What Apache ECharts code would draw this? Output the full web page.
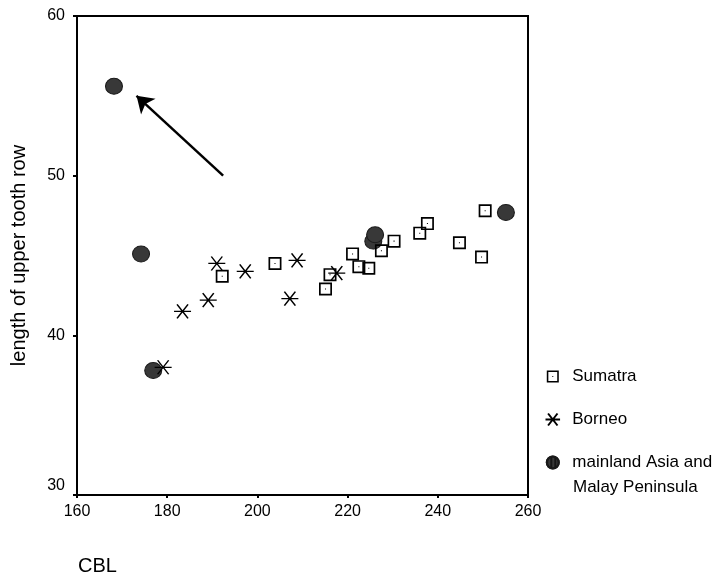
<!DOCTYPE html>
<html>
<head>
<meta charset="utf-8">
<script src="https://cdn.jsdelivr.net/npm/echarts@6/dist/echarts.min.js"></script>
<style>
  html, body { margin: 0; padding: 0; background: #fff; }
  #main { width: 718px; height: 581px; }
</style>
</head>
<body>
<div id="main"></div>
<script>
// data: [CBL, upper tooth row]
var sumatra = [
    [192.2, 43.7], [203.9, 44.5], [215.1, 42.9], [216.1, 43.8], [221.1, 45.1],
    [222.5, 44.3], [224.7, 44.2], [227.5, 45.3], [230.3, 45.9], [236.0, 46.4],
    [237.7, 47.0], [244.8, 45.8], [249.7, 44.9], [250.5, 47.8]
];
var borneo = [
    [179.1, 38.0], [183.4, 41.5], [189.1, 42.2], [191.0, 44.5], [197.3, 44.0],
    [207.2, 42.3], [208.8, 44.7], [217.6, 43.9]
];
var mainland = [
    [168.2, 55.6], [174.2, 45.1], [176.9, 37.8], [225.7, 45.9], [226.1, 46.3],
    [255.1, 47.7]
];
// arrow from tail to head
var arrow = [[192.4, 50.0], [173.2, 55.0]];

var xTicks = [160, 180, 200, 220, 240, 260];
var yTicks = [30, 40, 50, 60];
var seriesNames = ['Sumatra', 'Borneo', 'mainland Asia and Malay Peninsula'];
var mainlandLines = ['mainland Asia and', 'Malay Peninsula'];

var squareIcon = 'path://M0,0H20V20H0Z M2.6,2.6V17.4H17.4V2.6Z M9.2,9.2H10.8V10.8H9.2Z';
var starIcon = 'path://M0,7H17 M3,0L14,14 M3,14L14,0';

var font = 'Liberation Sans, Arial, sans-serif';

// hatched look of the mainland dots
var hatch = {
    symbol: 'rect',
    symbolSize: 1,
    dashArrayX: [2, 2],
    dashArrayY: [1, 0],
    color: 'rgba(0,0,0,0.6)'
};

var myChart = echarts.init(document.getElementById('main'));
var option = {
    backgroundColor: '#fff',
    animation: false,
    textStyle: { fontFamily: font, color: '#000' },
    grid: {
        left: 77,
        right: 190,
        top: 16,
        bottom: 83,
        show: true,
        borderColor: '#000',
        borderWidth: 2
    },
    legend: {
        orient: 'vertical',
        left: 538,
        top: 363,
        itemWidth: 29,
        itemHeight: 12,
        itemGap: 26,
        textStyle: { fontFamily: font, fontSize: 17, color: '#000' },
        data: seriesNames,
        formatter: function (name) {
            return name === seriesNames[2] ? mainlandLines[0] : name;
        }
    },
    graphic: [{
        type: 'text',
        left: 573,
        top: 479,
        style: { text: mainlandLines[1], font: '17px ' + font, fill: '#000' }
    }],
    xAxis: {
        type: 'value',
        min: xTicks[0],
        max: xTicks[xTicks.length - 1],
        interval: 20,
        name: 'CBL',
        nameLocation: 'middle',
        nameGap: 61,
        nameTextStyle: { fontFamily: font, fontSize: 20, color: '#000', padding: [0, 410, 0, 0] },
        axisLine: { lineStyle: { color: '#000', width: 2 } },
        axisTick: { show: true, length: 3, lineStyle: { color: '#000', width: 2 } },
        axisLabel: { fontFamily: font, fontSize: 16, color: '#000', margin: 9 },
        splitLine: { show: false }
    },
    yAxis: {
        type: 'value',
        min: yTicks[0],
        max: yTicks[yTicks.length - 1],
        interval: 10,
        name: 'length of upper tooth row',
        nameLocation: 'middle',
        nameGap: 48,
        nameTextStyle: { fontFamily: font, fontSize: 20, color: '#000' },
        axisLine: { lineStyle: { color: '#000', width: 2 } },
        axisTick: { show: true, length: 4, lineStyle: { color: '#000', width: 2 } },
        axisLabel: {
            fontFamily: font,
            fontSize: 16,
            color: '#000',
            margin: 12,
            formatter: function (v) {
                return v === yTicks[0] ? '{low|' + v + '}' : String(v);
            },
            rich: {
                low: { fontFamily: font, fontSize: 16, color: '#000', padding: [0, 0, 18, 0] }
            }
        },
        splitLine: { show: false }
    },
    series: [{
        name: seriesNames[0],
        type: 'scatter',
        symbol: squareIcon,
        symbolSize: 13,
        itemStyle: { color: '#000', opacity: 1 },
        data: sumatra,
        z: 3
    }, {
        name: seriesNames[1],
        type: 'scatter',
        symbol: starIcon,
        symbolSize: [17, 14],
        itemStyle: { color: 'none', borderColor: '#000', borderWidth: 1.4, opacity: 1 },
        data: borneo,
        z: 4
    }, {
        name: seriesNames[2],
        type: 'scatter',
        symbol: 'circle',
        symbolSize: [17, 16],
        itemStyle: { color: '#383838', borderColor: '#1a1a1a', borderWidth: 1, opacity: 1, decal: hatch },
        data: mainland,
        z: 2
    }, {
        type: 'lines',
        coordinateSystem: 'cartesian2d',
        symbol: ['none', 'arrow'],
        symbolSize: 16,
        lineStyle: { color: '#000', width: 2.5, opacity: 1 },
        data: [{ coords: arrow }],
        silent: true,
        z: 5
    }]
};
myChart.setOption(option);
</script>
</body>
</html>
